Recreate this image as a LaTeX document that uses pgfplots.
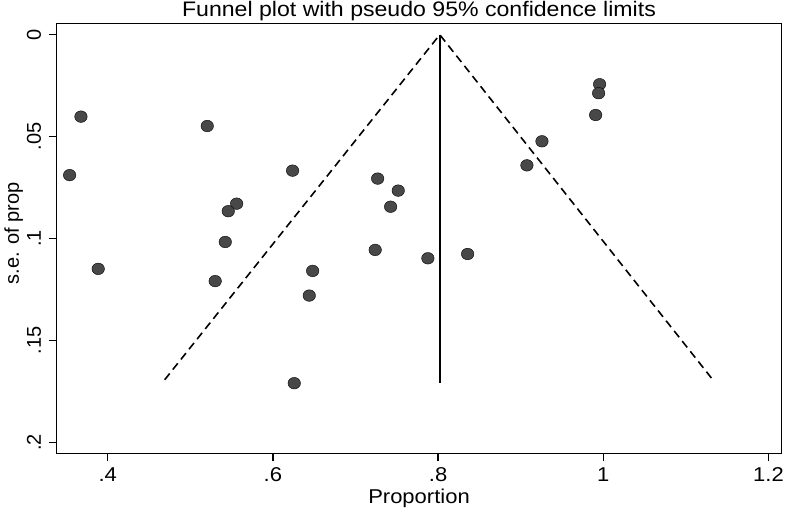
\documentclass[border=0pt]{standalone}
\usepackage{fontspec}
\setmainfont{Liberation Sans}
\newfontfamily\wide[FakeStretch=1.1]{Liberation Sans}
\usepackage{pgfplots}
\pgfplotsset{compat=1.18}
\usetikzlibrary{calc}
\definecolor{mk}{RGB}{72,72,72}

\pgfplotstableread{
x y
0.3676 0.0402
0.3539 0.0689
0.3885 0.1149
0.5205 0.0448
0.6238 0.0667
0.5561 0.0829
0.5459 0.0866
0.5423 0.1017
0.5301 0.1209
0.6481 0.1159
0.6440 0.1280
0.6258 0.1710
0.7268 0.0706
0.7517 0.0765
0.7425 0.0844
0.7238 0.1056
0.7876 0.1097
0.8357 0.1076
0.9257 0.0523
0.9075 0.0641
0.9955 0.0243
0.9943 0.0287
0.9907 0.0394
}\studies

\begin{document}
\begin{tikzpicture}
\begin{axis}[
  scale only axis, width=725bp, height=430bp,
  xmin=0.338, xmax=1.2157, ymin=-0.0056, ymax=0.2054,
  y dir=reverse,
  clip=false,
  axis line style={line width=1.6bp, black},
  xtick={0.4,0.6,0.8,1,1.2}, xticklabels={.4,.6,.8,1,1.2},
  ytick={0,0.05,0.1,0.15,0.2}, yticklabels={0,.05,.1,.15,.2},
  tick align=outside, major tick length=8bp,
  tick style={line width=1.4bp, black},
  ytick pos=left,
  xtick pos=left,
  ticklabel style={font=\fontsize{20bp}{24bp}\selectfont},
  xticklabel style={font=\wide\fontsize{20bp}{24bp}\selectfont},
  yticklabel style={rotate=90},
  xticklabel shift=2.5bp,
  yticklabel shift=4bp,
]
\addplot[only marks, mark=*, mark size=5.8bp, mark options={fill=mk, draw=none, xscale=1.08}] table[x=x, y=y] {\studies};
\addplot[black, line width=1.6bp, dash pattern=on 8bp off 5bp] coordinates {(0.469,0.1693) (0.802,0) (1.1325,0.1693)};
\addplot[black, line width=1.6bp] coordinates {(0.802,0) (0.802,0.171)};
\end{axis}
\node[font=\wide\fontsize{21bp}{24bp}\selectfont, anchor=base] at ($(current axis.north)+(0,6.8bp)$) {Funnel plot with pseudo 95\% confidence limits};
\node[font=\wide\fontsize{20bp}{24bp}\selectfont, anchor=base] at ($(current axis.south)+(0,-50bp)$) {Proportion};
\node[font=\fontsize{20bp}{24bp}\selectfont, anchor=base, rotate=90] at ($(current axis.west)+(-37.5bp,5bp)$) {s.e. of prop};
\pgfresetboundingbox
\path[use as bounding box] ($(current axis.south west)+(-56.5bp,-54.7bp)$) rectangle ($(current axis.north east)+(5.5bp,23.3bp)$);
\end{tikzpicture}
\end{document}
